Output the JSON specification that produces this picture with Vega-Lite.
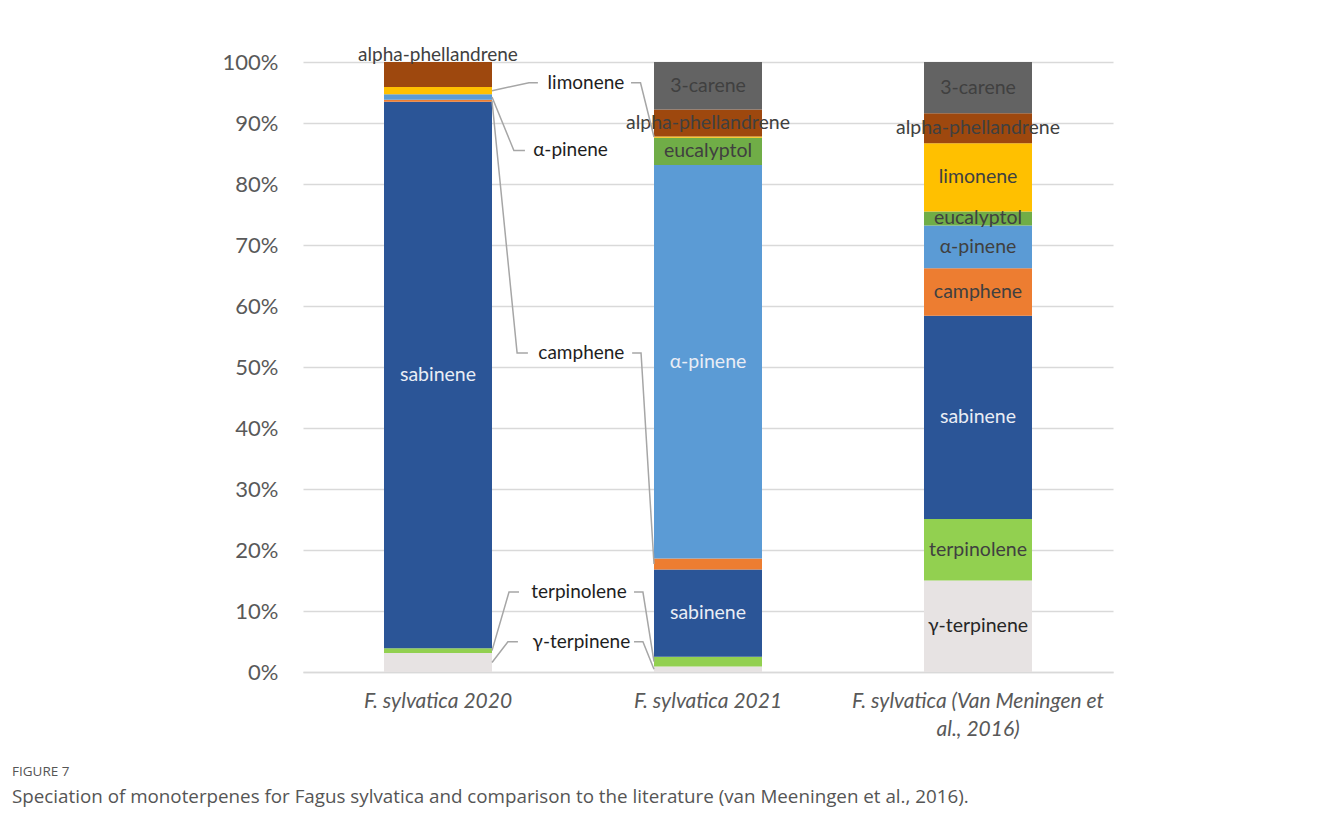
{
  "$schema": "https://vega.github.io/schema/vega-lite/v6.json",
  "width": 810,
  "height": 610,
  "autosize": {"type": "none"},
  "padding": {"left": 303, "top": 62, "right": 207, "bottom": 155},
  "background": "white",
  "config": {"view": {"stroke": null}, "font": "Lato"},
  "title": {
    "text": "FIGURE 7",
    "subtitle": "Speciation of monoterpenes for Fagus sylvatica and comparison to the literature (van Meeningen et al., 2016).",
    "orient": "bottom",
    "anchor": "start",
    "frame": "group",
    "dx": -291,
    "offset": 26,
    "font": "Open Sans",
    "fontSize": 13.5,
    "fontWeight": "normal",
    "color": "#555555",
    "subtitleFont": "Open Sans",
    "subtitleFontSize": 18.8,
    "subtitleColor": "#555555",
    "subtitlePadding": 9
  },
  "datasets": {
    "bars": [
      {"sample": "F. sylvatica 2020", "compound": "γ-terpinene", "value": 3.1},
      {"sample": "F. sylvatica 2020", "compound": "terpinolene", "value": 0.8},
      {"sample": "F. sylvatica 2020", "compound": "sabinene", "value": 89.6},
      {"sample": "F. sylvatica 2020", "compound": "camphene", "value": 0.3},
      {"sample": "F. sylvatica 2020", "compound": "α-pinene", "value": 0.9},
      {"sample": "F. sylvatica 2020", "compound": "limonene", "value": 1.2},
      {"sample": "F. sylvatica 2020", "compound": "alpha-phellandrene", "value": 4.1},
      {"sample": "F. sylvatica 2021", "compound": "γ-terpinene", "value": 0.9},
      {"sample": "F. sylvatica 2021", "compound": "terpinolene", "value": 1.6},
      {"sample": "F. sylvatica 2021", "compound": "sabinene", "value": 14.3},
      {"sample": "F. sylvatica 2021", "compound": "camphene", "value": 1.8},
      {"sample": "F. sylvatica 2021", "compound": "α-pinene", "value": 64.5},
      {"sample": "F. sylvatica 2021", "compound": "eucalyptol", "value": 4.5},
      {"sample": "F. sylvatica 2021", "compound": "limonene", "value": 0.2},
      {"sample": "F. sylvatica 2021", "compound": "alpha-phellandrene", "value": 4.4},
      {"sample": "F. sylvatica 2021", "compound": "3-carene", "value": 7.8},
      {"sample": "F. sylvatica (Van Meningen et al., 2016)", "compound": "γ-terpinene", "value": 15.0},
      {"sample": "F. sylvatica (Van Meningen et al., 2016)", "compound": "terpinolene", "value": 10.1},
      {"sample": "F. sylvatica (Van Meningen et al., 2016)", "compound": "sabinene", "value": 33.3},
      {"sample": "F. sylvatica (Van Meningen et al., 2016)", "compound": "camphene", "value": 7.8},
      {"sample": "F. sylvatica (Van Meningen et al., 2016)", "compound": "α-pinene", "value": 7.0},
      {"sample": "F. sylvatica (Van Meningen et al., 2016)", "compound": "eucalyptol", "value": 2.3},
      {"sample": "F. sylvatica (Van Meningen et al., 2016)", "compound": "limonene", "value": 11.2},
      {"sample": "F. sylvatica (Van Meningen et al., 2016)", "compound": "alpha-phellandrene", "value": 4.9},
      {"sample": "F. sylvatica (Van Meningen et al., 2016)", "compound": "3-carene", "value": 8.4}
    ],
    "leaders": [
      {"id": "limonene-L", "k": 0, "u": 0.2, "v": 95.3},
      {"id": "limonene-L", "k": 1, "u": 0.337, "v": 96.6},
      {"id": "limonene-L", "k": 2, "u": 0.37, "v": 96.6},
      {"id": "limonene-R", "k": 0, "u": 0.715, "v": 96.6},
      {"id": "limonene-R", "k": 1, "u": 0.75, "v": 96.6},
      {"id": "limonene-R", "k": 2, "u": 0.8, "v": 87.7},
      {"id": "apinene-L", "k": 0, "u": 0.2, "v": 94.25},
      {"id": "apinene-L", "k": 1, "u": 0.281, "v": 85.5},
      {"id": "apinene-L", "k": 2, "u": 0.322, "v": 85.5},
      {"id": "camphene-L", "k": 0, "u": 0.2, "v": 93.65},
      {"id": "camphene-L", "k": 1, "u": 0.293, "v": 52.3},
      {"id": "camphene-L", "k": 2, "u": 0.333, "v": 52.3},
      {"id": "camphene-R", "k": 0, "u": 0.719, "v": 52.3},
      {"id": "camphene-R", "k": 1, "u": 0.752, "v": 52.3},
      {"id": "camphene-R", "k": 2, "u": 0.8, "v": 17.7},
      {"id": "terpinolene-L", "k": 0, "u": 0.2, "v": 3.5},
      {"id": "terpinolene-L", "k": 1, "u": 0.263, "v": 13.1},
      {"id": "terpinolene-L", "k": 2, "u": 0.3, "v": 13.1},
      {"id": "terpinolene-R", "k": 0, "u": 0.726, "v": 13.1},
      {"id": "terpinolene-R", "k": 1, "u": 0.759, "v": 13.1},
      {"id": "terpinolene-R", "k": 2, "u": 0.8, "v": 1.7},
      {"id": "gterp-L", "k": 0, "u": 0.2, "v": 1.55},
      {"id": "gterp-L", "k": 1, "u": 0.259, "v": 4.97},
      {"id": "gterp-L", "k": 2, "u": 0.296, "v": 4.97},
      {"id": "gterp-R", "k": 0, "u": 0.726, "v": 4.97},
      {"id": "gterp-R", "k": 1, "u": 0.759, "v": 4.97},
      {"id": "gterp-R", "k": 2, "u": 0.8, "v": 0.45}
    ],
    "callouts": [
      {"label": "limonene", "u": 0.548, "v": 96.6},
      {"label": "α-pinene", "u": 0.491, "v": 85.5},
      {"label": "camphene", "u": 0.531, "v": 52.3},
      {"label": "terpinolene", "u": 0.522, "v": 13.1},
      {"label": "γ-terpinene", "u": 0.531, "v": 4.97},
      {"label": "alpha-phellandrene", "u": 0, "v": 101.1}
    ]
  },
  "resolve": {"scale": {"x": "independent"}},
  "layer": [
    {
      "data": {"name": "bars"},
      "transform": [
        {"calculate": "indexof(['γ-terpinene','terpinolene','sabinene','camphene','α-pinene','eucalyptol','limonene','alpha-phellandrene','3-carene'], datum.compound)", "as": "rank"},
        {"stack": "value", "groupby": ["sample"], "sort": [{"field": "rank", "order": "ascending"}], "as": ["y0", "y1"]}
      ],
      "mark": {"type": "bar"},
      "encoding": {
        "x": {
          "field": "sample",
          "type": "nominal",
          "sort": ["F. sylvatica 2020", "F. sylvatica 2021", "F. sylvatica (Van Meningen et al., 2016)"],
          "scale": {"paddingInner": 0.6, "paddingOuter": 0.3},
          "axis": {
            "title": null,
            "labelAngle": 0,
            "ticks": false,
            "domain": true,
            "domainColor": "#D9D9D9",
            "domainWidth": 1.5,
            "labelPadding": 18,
            "labelFont": "Lato",
            "labelFontStyle": "italic",
            "labelFontSize": 21,
            "labelColor": "#595959",
            "labelLineHeight": 28,
            "labelLimit": 400,
            "labelBaseline": "top",
            "labelExpr": "datum.value == 'F. sylvatica (Van Meningen et al., 2016)' ? ['F. sylvatica (Van Meningen et', 'al., 2016)'] : datum.value"
          }
        },
        "y": {
          "field": "y0",
          "type": "quantitative",
          "scale": {"domain": [0, 100], "nice": false},
          "axis": {
            "title": null,
            "values": [0, 10, 20, 30, 40, 50, 60, 70, 80, 90, 100],
            "labelExpr": "datum.value + '%'",
            "domain": false,
            "ticks": false,
            "labelPadding": 25,
            "labelFont": "Lato",
            "labelFontSize": 22,
            "labelColor": "#595959",
            "gridColor": "#D9D9D9",
            "gridWidth": 1.5
          }
        },
        "y2": {"field": "y1"},
        "color": {
          "field": "compound",
          "type": "nominal",
          "scale": {
            "domain": ["γ-terpinene", "terpinolene", "sabinene", "camphene", "α-pinene", "eucalyptol", "limonene", "alpha-phellandrene", "3-carene"],
            "range": ["#E7E3E3", "#92D050", "#2B5597", "#ED7D31", "#5B9BD5", "#70AD47", "#FFC000", "#9E480E", "#636363"]
          },
          "legend": null
        }
      }
    },
    {
      "data": {"name": "bars"},
      "transform": [
        {"calculate": "indexof(['γ-terpinene','terpinolene','sabinene','camphene','α-pinene','eucalyptol','limonene','alpha-phellandrene','3-carene'], datum.compound)", "as": "rank"},
        {"stack": "value", "groupby": ["sample"], "sort": [{"field": "rank", "order": "ascending"}], "as": ["y0", "y1"]},
        {"calculate": "(datum.y0 + datum.y1) / 2", "as": "mid"},
        {"filter": "datum.value >= 2.2 && (datum.sample != 'F. sylvatica 2020' || datum.compound == 'sabinene')"}
      ],
      "mark": {"type": "text", "align": "center", "baseline": "middle", "font": "Lato", "fontSize": 19.5},
      "encoding": {
        "x": {
          "field": "sample",
          "type": "nominal",
          "sort": ["F. sylvatica 2020", "F. sylvatica 2021", "F. sylvatica (Van Meningen et al., 2016)"],
          "scale": {"paddingInner": 0.6, "paddingOuter": 0.3},
          "axis": null
        },
        "y": {"field": "mid", "type": "quantitative"},
        "text": {"field": "compound"},
        "color": {
          "condition": [
            {"test": "datum.compound == 'sabinene' || (datum.compound == 'α-pinene' && datum.sample == 'F. sylvatica 2021')", "value": "#E9EDF5"},
            {"test": "datum.compound == 'γ-terpinene'", "value": "#262626"}
          ],
          "value": "#404040"
        }
      }
    },
    {
      "data": {"name": "leaders"},
      "mark": {"type": "line", "color": "#A6A6A6", "strokeWidth": 1.5},
      "encoding": {
        "x": {"field": "u", "type": "quantitative", "scale": {"domain": [-0.5, 2.5], "nice": false, "zero": false}, "axis": null},
        "y": {"field": "v", "type": "quantitative"},
        "detail": {"field": "id"},
        "order": {"field": "k"}
      }
    },
    {
      "data": {"name": "callouts"},
      "mark": {"type": "text", "align": "center", "baseline": "middle", "font": "Lato", "fontSize": 19},
      "encoding": {
        "x": {"field": "u", "type": "quantitative", "scale": {"domain": [-0.5, 2.5], "nice": false, "zero": false}, "axis": null},
        "y": {"field": "v", "type": "quantitative"},
        "text": {"field": "label"},
        "color": {
          "condition": {"test": "datum.label == 'alpha-phellandrene'", "value": "#404040"},
          "value": "#1E1E1E"
        }
      }
    }
  ]
}
